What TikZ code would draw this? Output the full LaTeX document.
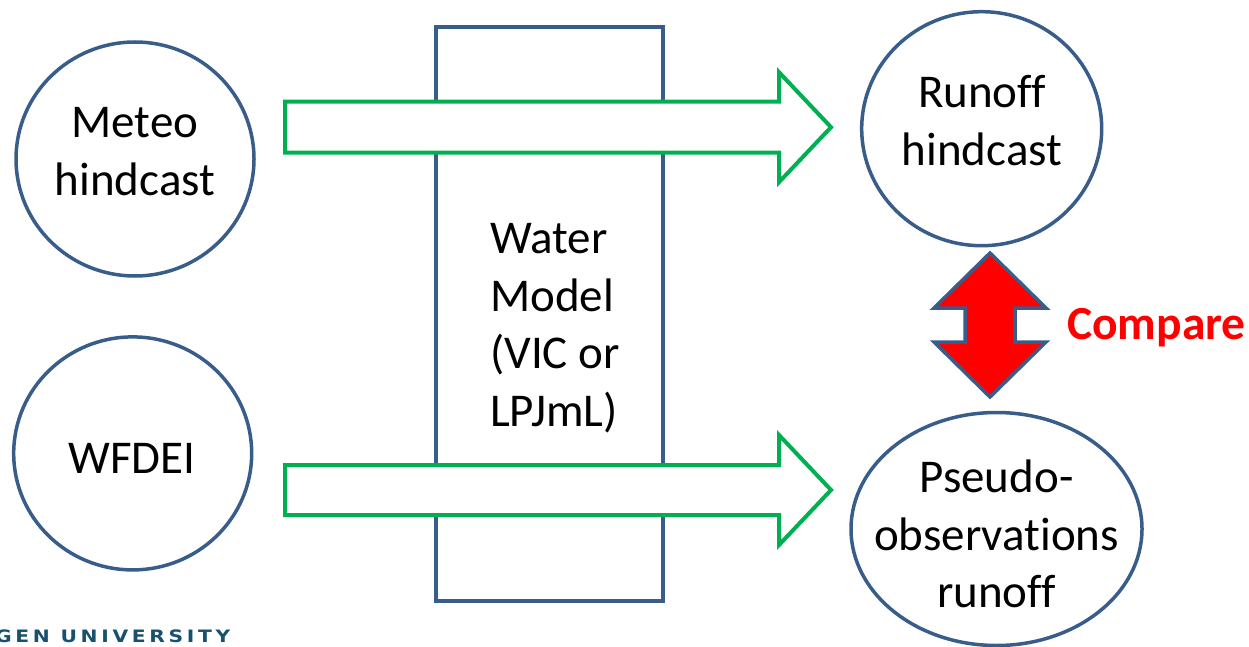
\documentclass[tikz,border=0pt]{standalone}
\usepackage{fontspec}
\usepackage{graphicx}
\setmainfont{Carlito}[Ligatures=NoCommon]
\newfontfamily\unifont{DejaVu Sans}[LetterSpace=18]
\usetikzlibrary{shapes.geometric}
\definecolor{outl}{RGB}{56,93,138}
\definecolor{grn}{RGB}{0,176,80}
\definecolor{uni}{RGB}{24,80,112}
\begin{document}
\begin{tikzpicture}[x=1pt,y=-1pt,
  shapeline/.style={draw=outl, line width=3.5pt, inner sep=0pt},
  blockarrow/.style={draw=grn, line width=4pt, fill=white, line join=miter},
  cmparrow/.style={draw=outl, line width=3.5pt, fill=red, line join=miter},
  lbl/.style={inner sep=0pt, font=\fontsize{47}{57.5}\selectfont, align=center}]
\useasboundingbox (0,0) rectangle (1249,647);
% water model box
\node[shapeline, rectangle, minimum width=227pt, minimum height=574pt] (wm) at (549.5,314) {};
% circles
\node[shapeline, ellipse, minimum width=238pt, minimum height=234pt] (meteo) at (135,159) {};
\node[shapeline, ellipse, minimum width=238pt, minimum height=233pt] (wfdei) at (132.7,453.4) {};
\node[shapeline, ellipse, minimum width=240pt, minimum height=234pt] (runoff) at (981.7,128.7) {};
\node[shapeline, ellipse, minimum width=291pt, minimum height=233pt] (pseudo) at (996.5,529) {};
% block arrows
\draw[blockarrow] (285,101.7) -- (779,101.7) -- (779,72.2) -- (831,127.2) -- (779,182.2) -- (779,152.7) -- (285,152.7) -- cycle;
\draw[blockarrow] (285,465) -- (779,465) -- (779,435) -- (831,490) -- (779,545) -- (779,515) -- (285,515) -- cycle;
% compare arrow
\draw[cmparrow] (990,253) -- (1046,308) -- (1015,308) -- (1015,342) -- (1046,342) -- (990,397) -- (934,342) -- (965,342) -- (965,308) -- (934,308) -- cycle;
% texts
\node[lbl] (meteoT) at (135,151.5) {Meteo\\hindcast};
\node[lbl] (wfdeiT) at (132,458) {WFDEI};
\node[lbl] (runoffT) at (982,120.5) {Runoff\\hindcast};
\node[lbl] (pseudoT) at (996.5,534) {Pseudo-\\observations\\runoff};
\node[lbl, align=left, anchor=north west] (wmT) at (490,223.5) {Water\\Model\\(VIC or\\LPJmL)};
\node[inner sep=0pt, anchor=base west, text=red, font=\bfseries\fontsize{47.5}{55}\selectfont] (cmpT) at (1067,339) {Compare};
\node[inner sep=0pt, anchor=base west, text=uni] (uniT) at (-5,642.7) {\resizebox{235pt}{12.7pt}{\unifont\bfseries GEN UNIVERSITY}};
\end{tikzpicture}
\end{document}
